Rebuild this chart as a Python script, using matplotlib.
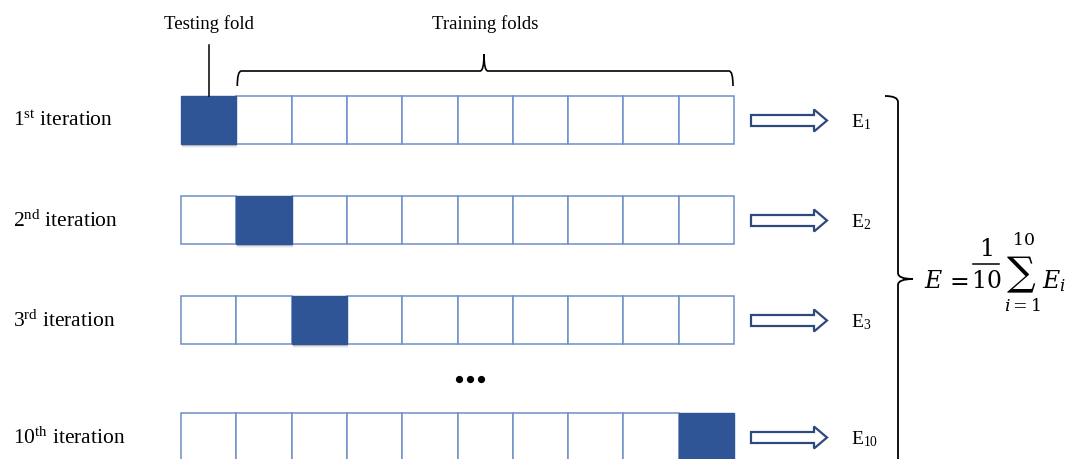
import matplotlib
matplotlib.use("Agg")
import matplotlib.pyplot as plt
from matplotlib.patches import Rectangle, FancyArrow, PathPatch
from matplotlib.path import Path

plt.rcParams['font.family'] = ['Liberation Serif', 'DejaVu Serif']
plt.rcParams['mathtext.fontset'] = 'custom'
plt.rcParams['mathtext.rm'] = 'Liberation Serif'
plt.rcParams['mathtext.it'] = 'Liberation Serif:italic'

# data
n_folds = 10
iteration_nums = ['1', '2', '3', '10']
iteration_suffix = ['st', 'nd', 'rd', 'th']
test_fold = [0, 1, 2, 9]
error_subs = ['1', '2', '3', '10']

# layout (pixel space of the 1069x460 picture)
x0, cell_w, cell_h = 181, 55.3, 48
row_tops = [97, 197, 297, 414]
fill_col = '#2F5597'
edge_col = '#6F8FC8'
arrow_col = '#2E4A7C'

fig = plt.figure(figsize=(10.69, 4.6), dpi=100)
ax = fig.add_axes([0, 0, 1, 1])
ax.set_xlim(0, 1069)
ax.set_ylim(460, 0)
ax.axis('off')

for r, top in enumerate(row_tops):
    cy = top + cell_h / 2
    for i in range(n_folds):
        left = x0 + i * cell_w
        if i == test_fold[r]:
            # soft shadow under the testing fold
            for k, a in enumerate([0.10, 0.07, 0.04]):
                ax.add_patch(Rectangle((left + 1, top + 2 + k), cell_w, cell_h,
                                       facecolor='black', edgecolor='none', alpha=a, zorder=1))
            ax.add_patch(Rectangle((left, top), cell_w, cell_h, facecolor=fill_col,
                                   edgecolor=fill_col, lw=1, zorder=3))
        else:
            ax.add_patch(Rectangle((left, top), cell_w, cell_h, facecolor='white',
                                   edgecolor=edge_col, lw=1.1, zorder=2))
    ax.text(13, cy, '$%s^{\\mathrm{%s}}$ iteration' % (iteration_nums[r], iteration_suffix[r]),
            fontsize=15.5, va='center', ha='left')
    ax.add_patch(FancyArrow(751, cy + 0.5, 76, 0, width=11, head_width=22, head_length=13,
                            length_includes_head=True, facecolor='white', edgecolor=arrow_col,
                            lw=1.6, zorder=3))
    ax.text(851, cy + 1, 'E$_{%s}$' % error_subs[r], fontsize=14, va='center', ha='left')

# testing fold pointer
ax.plot([209, 209], [46, row_tops[0]], color='black', lw=1.1, zorder=4)
ax.text(209, 24, 'Testing fold', fontsize=13.5, ha='center', va='center')

# training folds brace
bx0, bx1, bmid = x0 + cell_w + 1, x0 + n_folds * cell_w - 1, 484
verts = [(bx0, 87), (bx0, 72), (bx0 + 4, 72),
         (bmid - 4, 72), (bmid, 72), (bmid, 55),
         (bmid, 72), (bmid + 4, 72),
         (bx1 - 4, 72), (bx1, 72), (bx1, 87)]
codes = [Path.MOVETO, Path.CURVE3, Path.CURVE3,
         Path.LINETO, Path.CURVE3, Path.CURVE3,
         Path.CURVE3, Path.CURVE3,
         Path.LINETO, Path.CURVE3, Path.CURVE3]
ax.add_patch(PathPatch(Path(verts, codes), facecolor='none', edgecolor='black', lw=1.2))
ax.text(485, 24, 'Training folds', fontsize=13.5, ha='center', va='center')

# ellipsis
ax.plot([459, 470, 481], [380, 380, 380], 'o', color='black', ms=4.2)

# right brace
rx, rtip, ry0, ry1, rmid = 898, 913, 97, 475, 280
verts = [(885, ry0), (rx, ry0), (rx, ry0 + 6),
         (rx, rmid - 6), (rx, rmid), (rtip, rmid),
         (rx, rmid), (rx, rmid + 6),
         (rx, ry1)]
codes = [Path.MOVETO, Path.CURVE3, Path.CURVE3,
         Path.LINETO, Path.CURVE3, Path.CURVE3,
         Path.CURVE3, Path.CURVE3,
         Path.LINETO]
ax.add_patch(PathPatch(Path(verts, codes), facecolor='none', edgecolor='black', lw=1.3))

# mean error formula, set piece by piece like a display equation
mf = dict(math_fontfamily='dejavuserif')
base = 288
ax.text(924, base, r'$E$', fontsize=17, ha='left', va='baseline', **mf)
ax.text(957, base - 1, r'$=$', fontsize=17, ha='center', va='baseline', **mf)
ax.text(986, 256, r'$1$', fontsize=17, ha='center', va='baseline', **mf)
ax.plot([973, 999], [265, 265], color='black', lw=1.1)
ax.text(986, base, r'$10$', fontsize=17, ha='center', va='baseline', **mf)
ax.text(1021, 275, r'$\sum$', fontsize=20.5, ha='center', va='center', **mf)
ax.text(1023, 245, r'$10$', fontsize=12.5, ha='center', va='baseline', **mf)
ax.text(1023, 311, r'$i=1$', fontsize=12.5, ha='center', va='baseline', **mf)
ax.text(1042, base, r'$E_i$', fontsize=17, ha='left', va='baseline', **mf)

fig.savefig('out.png', dpi=100)
